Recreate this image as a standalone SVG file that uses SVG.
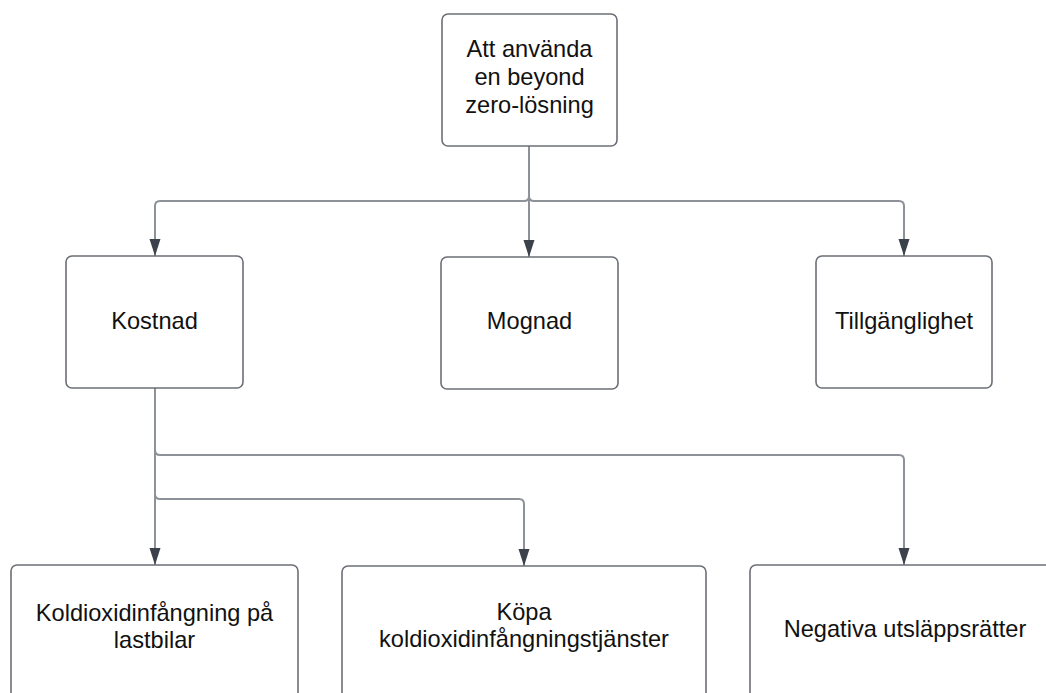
<svg xmlns="http://www.w3.org/2000/svg" width="1046" height="693" viewBox="0 0 1046 693">
  <style>
    .box { fill: #ffffff; stroke: #6b6f75; stroke-width: 1.6; }
    .lbl { font-family: "Liberation Sans", Arial, sans-serif; font-size: 23.6px; fill: #111111; text-anchor: middle; }
    .edge { fill: none; stroke: #8d9299; stroke-width: 2; }
  </style>
  <defs>
    <marker id="arrd" markerUnits="userSpaceOnUse" markerWidth="17" markerHeight="12" refX="17" refY="6" orient="auto" viewBox="0 0 17 12">
      <path d="M0,0.5 L17,6 L0,11.5 Z" fill="#3b424c"/>
    </marker>
  </defs>
  <rect width="1046" height="693" fill="#ffffff"/>

  <g id="connectors">
    <path class="edge" d="M529,146 V196 Q529,201 524,201 H160 Q155,201 155,206 V256" marker-end="url(#arrd)"/>
    <path class="edge" d="M529,146 V196 Q529,201 534,201 H899 Q904,201 904,206 V256" marker-end="url(#arrd)"/>
    <path class="edge" d="M529,146 V257" marker-end="url(#arrd)"/>
    <path class="edge" d="M155,388 V565" marker-end="url(#arrd)"/>
    <path class="edge" d="M155,388 V450 Q155,455 160,455 H899 Q904,455 904,460 V565" marker-end="url(#arrd)"/>
    <path class="edge" d="M155,388 V494 Q155,499 160,499 H519 Q524,499 524,504 V566" marker-end="url(#arrd)"/>
  </g>

  <g id="node-top">
    <rect class="box" x="442" y="14" width="175" height="132" rx="6"/>
    <text class="lbl" x="529.5" y="57">Att använda</text>
    <text class="lbl" x="529.5" y="85">en beyond</text>
    <text class="lbl" x="529.5" y="113">zero-lösning</text>
  </g>

  <g id="node-kostnad">
    <rect class="box" x="66" y="256" width="177" height="132" rx="6"/>
    <text class="lbl" x="154.5" y="329">Kostnad</text>
  </g>

  <g id="node-mognad">
    <rect class="box" x="441" y="257" width="177" height="132" rx="6"/>
    <text class="lbl" x="529.5" y="329">Mognad</text>
  </g>

  <g id="node-tillganglighet">
    <rect class="box" x="816" y="256" width="176" height="132" rx="6"/>
    <text class="lbl" x="904" y="329">Tillgänglighet</text>
  </g>

  <g id="node-lastbilar">
    <rect class="box" x="11" y="565" width="287" height="150" rx="6"/>
    <text class="lbl" x="154.5" y="621">Koldioxidinfångning på</text>
    <text class="lbl" x="154.5" y="648">lastbilar</text>
  </g>

  <g id="node-kopa">
    <rect class="box" x="342" y="566" width="364" height="150" rx="6"/>
    <text class="lbl" x="524" y="620">Köpa</text>
    <text class="lbl" x="524" y="647">koldioxidinfångningstjänster</text>
  </g>

  <g id="node-negativa">
    <rect class="box" x="750" y="565" width="310" height="150" rx="6"/>
    <text class="lbl" x="905" y="637">Negativa utsläppsrätter</text>
  </g>
</svg>
